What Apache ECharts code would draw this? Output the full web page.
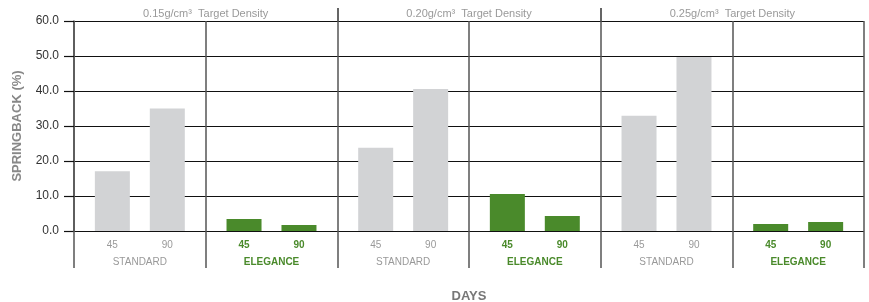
<!DOCTYPE html>
<html>
<head>
<meta charset="utf-8">
<script src="https://cdn.jsdelivr.net/npm/echarts@6/dist/echarts.min.js"></script>
<style>
  html, body { margin: 0; padding: 0; background: #fff; }
  #chart { width: 869px; height: 302px; }
</style>
</head>
<body>
<div id="chart"></div>
<script>
// 数据
var categories = ["STANDARD", "ELEGANCE", "STANDARD", "ELEGANCE", "STANDARD", "ELEGANCE"];
var days45 = [17.1, 3.4, 23.8, 10.6, 32.9, 2.0];
var days90 = [35.0, 1.7, 40.6, 4.3, 49.7, 2.6];
var densities = ["0.15g/cm³  Target Density", "0.20g/cm³  Target Density", "0.25g/cm³  Target Density"];
var dayNames = ["45", "90"];

var FONT = "Liberation Sans, Arial, sans-serif";
var GRAY_BAR = "#d2d3d5";
var GREEN = "#4a8a2b";
var LINE = "#555";

var chart = echarts.init(document.getElementById("chart"));

function barSeries(name, values) {
  return {
    name: name,
    type: "bar",
    barWidth: 35,
    barGap: "57%",
    data: values,
    itemStyle: {
      color: function (p) {
        return p.dataIndex % 2 === 0 ? GRAY_BAR : GREEN;
      },
    },
    label: {
      show: true,
      position: "bottom",
      distance: 9,
      formatter: function (p) {
        return (p.dataIndex % 2 === 0 ? "{s|" : "{e|") + p.seriesName + "}";
      },
      rich: {
        s: { color: "#999", fontSize: 10, fontFamily: FONT },
        e: { color: GREEN, fontSize: 10, fontWeight: "bold", fontFamily: FONT },
      },
    },
  };
}

chart.setOption({
  animation: false,
  grid: { left: 74, right: 5, top: 21, bottom: 71, outerBoundsMode: "none" },
  xAxis: [
    {
      type: "category",
      data: categories,
      name: "DAYS",
      nameLocation: "middle",
      nameGap: 59,
      nameTextStyle: { color: "#777", fontSize: 13, fontWeight: "bold", fontFamily: FONT },
      axisLine: { show: false },
      axisTick: { show: true, interval: 0, length: 37, lineStyle: { color: LINE, width: 1.5 } },
      splitLine: { show: true, interval: 0, lineStyle: { color: LINE, width: 1.5 } },
      axisLabel: {
        interval: 0,
        margin: 26,
        formatter: function (v, i) {
          return (i % 2 === 0 ? "{s|" : "{e|") + v + "}";
        },
        rich: {
          s: { color: "#999", fontSize: 10, fontFamily: FONT },
          e: { color: GREEN, fontSize: 10, fontWeight: "bold", fontFamily: FONT },
        },
      },
    },
    {
      type: "value",
      position: "top",
      min: 0,
      max: 6,
      axisLine: { show: false },
      splitLine: { show: false },
      axisTick: { show: true, customValues: [2, 4], length: 13, lineStyle: { color: "#333", width: 1.5 } },
      axisLabel: {
        customValues: [1, 3, 5],
        margin: 2,
        color: "#999",
        fontSize: 11,
        fontFamily: FONT,
        formatter: function (v) {
          return densities[Math.round((v - 1) / 2)] || "";
        },
      },
    },
  ],
  yAxis: {
    type: "value",
    min: 0,
    max: 60,
    interval: 10,
    name: "SPRINGBACK (%)",
    nameLocation: "middle",
    nameGap: 50,
    nameTextStyle: { color: "#888", fontSize: 13, fontWeight: "bold", fontFamily: FONT },
    axisLine: { show: true, lineStyle: { color: LINE, width: 1.5 } },
    axisTick: { show: true, length: 10, lineStyle: { color: "#111", width: 1.2 } },
    splitLine: { show: true, lineStyle: { color: "#111", width: 1.2 } },
    axisLabel: {
      margin: 15,
      color: "#333",
      fontSize: 12,
      fontFamily: FONT,
      formatter: function (v) {
        return v.toFixed(1);
      },
    },
  },
  series: [barSeries(dayNames[0], days45), barSeries(dayNames[1], days90)],
});

window.addEventListener("resize", function () {
  chart.resize();
});
</script>
</body>
</html>
